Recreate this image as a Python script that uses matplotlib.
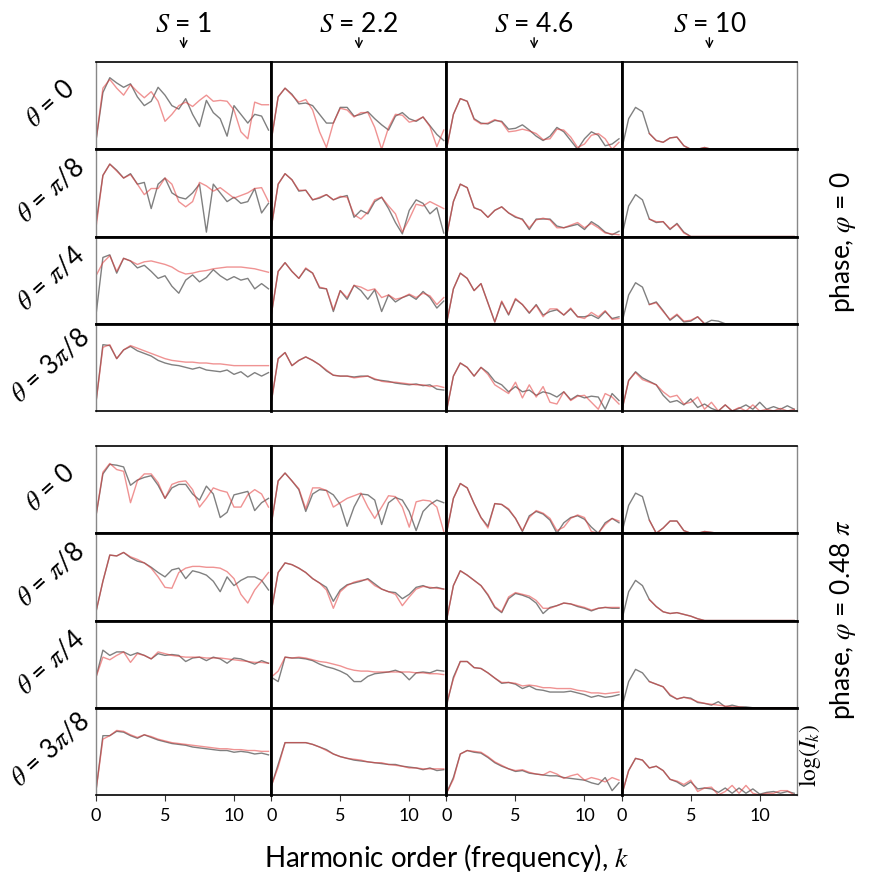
import numpy as np
import matplotlib
matplotlib.use('Agg')
import matplotlib.pyplot as plt

plt.rcParams['font.family'] = ['Lato', 'DejaVu Sans']
plt.rcParams['mathtext.fontset'] = 'stix'

nan = np.nan

# harmonic order axis, read every half step
k = np.arange(0, 12.75, 0.5)

s_labels = ['1', '2.2', '4.6', '10']
theta_labels = [r'$\theta$ = 0', r'$\theta$ = $\pi$/8', r'$\theta$ = $\pi$/4', r'$\theta$ = 3$\pi$/8']
phase_labels = [r'phase, $\varphi$ = 0', r'phase, $\varphi$ = 0.48 $\pi$']

# ---- phase 0, gray (reference) curves: one row per theta, columns S=1, 2.2, 4.6, 10
gray_p0_t0 = [
    [0.1, 0.65, 0.82, 0.76, 0.71, 0.75, 0.6, 0.5, 0.55, 0.71, 0.62, 0.5, 0.46, 0.58, 0.4, 0.26, 0.56, 0.42, 0.35, 0.15, 0.5, 0.4, 0.3, 0.4, 0.38, 0.22],
    [0.1, 0.6, 0.70, 0.63, 0.52, 0.53, 0.5, 0.4, 0.3, 0.3, 0.48, 0.48, 0.38, 0.4, 0.43, 0.35, 0.28, 0.22, 0.38, 0.42, 0.35, 0.32, 0.37, 0.27, 0.17, 0.1],
    [0.0, 0.4, 0.58, 0.55, 0.35, 0.3, 0.29, 0.33, 0.32, 0.23, 0.24, 0.28, 0.22, 0.15, 0.1, 0.15, 0.25, 0.2, 0.1, 0.0, 0.12, 0.2, 0.16, 0.04, 0.06, 0.12],
    [0.0, 0.35, 0.48, 0.43, 0.18, 0.1, 0.08, 0.13, 0.14, 0.04, 0.0, 0.0, 0.02, 0, 0, 0, 0, 0, 0, 0, 0, 0, 0, 0, 0, 0],
]
gray_p0_t1 = [
    [0.15, 0.7, 0.83, 0.76, 0.67, 0.72, 0.6, 0.62, 0.32, 0.6, 0.67, 0.5, 0.45, 0.43, 0.5, 0.6, 0.05, 0.6, 0.5, 0.4, 0.45, 0.38, 0.4, 0.55, 0.27, 0.38],
    [0.1, 0.6, 0.72, 0.65, 0.52, 0.53, 0.42, 0.44, 0.48, 0.42, 0.45, 0.47, 0.22, 0.3, 0.26, 0.4, 0.45, 0.32, 0.16, 0.03, 0.3, 0.42, 0.38, 0.26, 0.33, 0.04],
    [0.0, 0.4, 0.6, 0.56, 0.33, 0.3, 0.22, 0.3, 0.34, 0.27, 0.22, 0.2, 0.08, 0.2, 0.2, 0.2, 0.12, 0.1, 0.12, 0.14, 0.08, 0.17, 0.12, 0.05, 0.02, 0.06],
    [0.0, 0.35, 0.48, 0.42, 0.2, 0.16, 0.17, 0.08, 0.15, 0.05, 0.0, 0, 0, 0, 0, 0, 0, 0, 0, 0, 0, 0, 0, 0, 0, 0],
]
gray_p0_t2 = [
    [0.1, 0.76, 0.79, 0.58, 0.75, 0.72, 0.64, 0.67, 0.6, 0.52, 0.55, 0.43, 0.35, 0.5, 0.56, 0.48, 0.53, 0.62, 0.55, 0.5, 0.54, 0.5, 0.52, 0.4, 0.46, 0.4],
    [0.1, 0.6, 0.70, 0.6, 0.52, 0.63, 0.58, 0.41, 0.4, 0.14, 0.38, 0.28, 0.44, 0.38, 0.28, 0.39, 0.14, 0.33, 0.25, 0.3, 0.33, 0.28, 0.37, 0.3, 0.18, 0.26],
    [0.0, 0.4, 0.58, 0.52, 0.38, 0.46, 0.24, 0.02, 0.25, 0.1, 0.28, 0.22, 0.12, 0.22, 0.1, 0.14, 0.16, 0.1, 0.17, 0.08, 0.08, 0.1, 0.06, 0.14, 0.06, 0.08],
    [0.0, 0.33, 0.47, 0.42, 0.22, 0.25, 0.15, 0.04, 0.1, 0.02, 0.03, 0.08, 0.0, 0.04, 0.03, 0, 0, 0, 0, 0, 0, 0, 0, 0, 0, 0],
]
gray_p0_t3 = [
    [0.1, 0.76, 0.75, 0.6, 0.7, 0.74, 0.69, 0.66, 0.63, 0.58, 0.55, 0.53, 0.52, 0.5, 0.48, 0.5, 0.47, 0.46, 0.45, 0.47, 0.42, 0.45, 0.39, 0.44, 0.4, 0.44],
    [0.1, 0.6, 0.67, 0.52, 0.58, 0.62, 0.58, 0.53, 0.46, 0.41, 0.4, 0.4, 0.39, 0.4, 0.4, 0.36, 0.35, 0.34, 0.32, 0.31, 0.3, 0.31, 0.29, 0.3, 0.25, 0.24],
    [0.0, 0.4, 0.55, 0.5, 0.4, 0.5, 0.44, 0.34, 0.3, 0.22, 0.28, 0.22, 0.24, 0.18, 0.22, 0.2, 0.16, 0.22, 0.13, 0.18, 0.15, 0.17, 0.16, 0.02, 0.2, 0.12],
    [0.0, 0.35, 0.45, 0.38, 0.34, 0.3, 0.18, 0.1, 0.12, 0.07, 0.14, 0.04, 0.08, 0.03, 0.0, 0.07, 0.0, 0.03, 0.07, 0.02, 0.1, 0.02, 0.05, 0.02, 0.06, 0.02],
]

# ---- phase 0, pink (model) curves
pink_p0_t0 = [
    [0.1, 0.7, 0.8, 0.7, 0.62, 0.74, 0.66, 0.59, 0.66, 0.55, 0.32, 0.4, 0.5, 0.54, 0.49, 0.56, 0.62, 0.55, 0.56, 0.55, 0.45, 0.2, 0.12, 0.54, 0.51, 0.51],
    [0.1, 0.6, 0.7, 0.62, 0.54, 0.57, 0.45, 0.2, 0.02, 0.3, 0.47, 0.45, 0.37, 0.42, 0.42, 0.25, 0.0, 0.25, 0.4, 0.39, 0.31, 0.33, 0.37, 0.26, 0.03, 0.22],
    [0.0, 0.4, 0.58, 0.55, 0.34, 0.29, 0.3, 0.34, 0.31, 0.2, 0.21, 0.23, 0.21, 0.18, 0.11, 0.12, 0.23, 0.22, 0.14, 0.02, 0.06, 0.16, 0.18, 0.12, 0.0, 0.08],
    [nan, nan, nan, nan, 0.18, 0.1, 0.08, 0.13, 0.14, 0.04, 0.0, 0.0, 0.02, 0, 0, 0, 0, 0, 0, 0, 0, 0, 0, 0, 0, 0],
]
pink_p0_t1 = [
    [0.1, 0.7, 0.83, 0.75, 0.67, 0.71, 0.6, 0.48, 0.55, 0.55, 0.67, 0.6, 0.4, 0.34, 0.4, 0.62, 0.58, 0.52, 0.56, 0.5, 0.44, 0.47, 0.5, 0.55, 0.56, 0.4],
    [0.1, 0.6, 0.72, 0.65, 0.53, 0.53, 0.42, 0.45, 0.48, 0.42, 0.46, 0.45, 0.25, 0.2, 0.28, 0.42, 0.45, 0.35, 0.26, 0.05, 0.2, 0.37, 0.35, 0.4, 0.36, 0.32],
    [0.0, 0.4, 0.6, 0.56, 0.33, 0.3, 0.22, 0.3, 0.34, 0.27, 0.23, 0.19, 0.1, 0.19, 0.21, 0.19, 0.1, 0.1, 0.13, 0.16, 0.1, 0.15, 0.1, 0.04, 0.03, 0.02],
    [nan, nan, nan, nan, 0.2, 0.17, 0.17, 0.09, 0.14, 0.04, 0.0, 0, 0, 0, 0, 0, 0, 0, 0, 0, 0, 0, 0, 0, 0, 0],
]
pink_p0_t2 = [
    [0.55, 0.7, 0.78, 0.6, 0.75, 0.72, 0.68, 0.71, 0.72, 0.7, 0.68, 0.65, 0.6, 0.57, 0.58, 0.6, 0.61, 0.63, 0.64, 0.65, 0.65, 0.65, 0.64, 0.63, 0.61, 0.59],
    [0.1, 0.6, 0.70, 0.6, 0.52, 0.64, 0.58, 0.42, 0.4, 0.16, 0.38, 0.3, 0.44, 0.42, 0.38, 0.4, 0.3, 0.33, 0.28, 0.3, 0.34, 0.3, 0.35, 0.32, 0.22, 0.3],
    [0.0, 0.4, 0.58, 0.52, 0.38, 0.46, 0.24, 0.02, 0.26, 0.11, 0.29, 0.22, 0.13, 0.21, 0.08, 0.17, 0.17, 0.1, 0.18, 0.08, 0.06, 0.13, 0.08, 0.15, 0.05, 0.06],
    [nan, nan, nan, nan, 0.22, 0.24, 0.14, 0.05, 0.11, 0.03, 0.04, 0.08, 0.0, 0, 0, 0, 0, 0, 0, 0, 0, 0, 0, 0, 0, 0],
]
pink_p0_t3 = [
    [0.1, 0.73, 0.76, 0.6, 0.7, 0.75, 0.72, 0.69, 0.66, 0.63, 0.6, 0.58, 0.57, 0.56, 0.56, 0.55, 0.55, 0.54, 0.54, 0.53, 0.52, 0.52, 0.52, 0.52, 0.52, 0.52],
    [0.1, 0.6, 0.67, 0.52, 0.58, 0.62, 0.58, 0.53, 0.47, 0.41, 0.4, 0.4, 0.38, 0.39, 0.4, 0.37, 0.34, 0.33, 0.33, 0.32, 0.31, 0.3, 0.3, 0.28, 0.29, 0.27],
    [0.0, 0.4, 0.55, 0.5, 0.4, 0.5, 0.42, 0.3, 0.25, 0.2, 0.33, 0.15, 0.3, 0.16, 0.28, 0.1, 0.08, 0.22, 0.12, 0.17, 0.18, 0.1, 0.02, 0.2, 0.16, 0.08],
    [0.0, 0.35, 0.44, 0.36, 0.33, 0.3, 0.22, 0.16, 0.18, 0.08, 0.1, 0.16, 0.02, 0.1, 0.0, 0.07, 0.0, 0.04, 0.0, 0.07, 0.0, 0.02, 0.0, 0.03, 0.0, 0.02],
]

# ---- phase 0.48 pi, gray curves
gray_p1_t0 = [
    [0.2, 0.68, 0.79, 0.78, 0.76, 0.55, 0.61, 0.64, 0.66, 0.55, 0.4, 0.52, 0.56, 0.56, 0.45, 0.38, 0.54, 0.45, 0.18, 0.24, 0.44, 0.46, 0.48, 0.26, 0.35, 0.4],
    [0.1, 0.6, 0.69, 0.6, 0.5, 0.25, 0.45, 0.5, 0.49, 0.44, 0.33, 0.08, 0.3, 0.45, 0.44, 0.38, 0.1, 0.35, 0.41, 0.38, 0.25, 0.03, 0.25, 0.33, 0.38, 0.35],
    [0.0, 0.4, 0.57, 0.52, 0.34, 0.18, 0.08, 0.34, 0.33, 0.27, 0.17, 0.02, 0.2, 0.25, 0.22, 0.15, 0.0, 0.12, 0.18, 0.2, 0.16, 0.07, 0.0, 0.12, 0.17, 0.12],
    [0.0, 0.32, 0.46, 0.42, 0.15, 0.0, 0.06, 0.14, 0.14, 0.03, 0.0, 0.0, 0.02, 0.01, 0, 0, 0, 0, 0, 0, 0, 0, 0, 0, 0, 0],
]
gray_p1_t1 = [
    [0.1, 0.45, 0.75, 0.74, 0.78, 0.72, 0.68, 0.66, 0.61, 0.55, 0.5, 0.58, 0.6, 0.48, 0.57, 0.55, 0.52, 0.45, 0.33, 0.5, 0.4, 0.46, 0.5, 0.5, 0.46, 0.35],
    [0.1, 0.55, 0.66, 0.64, 0.6, 0.55, 0.48, 0.43, 0.38, 0.22, 0.35, 0.41, 0.43, 0.45, 0.48, 0.42, 0.36, 0.33, 0.32, 0.25, 0.3, 0.38, 0.4, 0.37, 0.38, 0.36],
    [0.0, 0.4, 0.57, 0.52, 0.46, 0.4, 0.29, 0.15, 0.09, 0.25, 0.31, 0.29, 0.26, 0.2, 0.08, 0.15, 0.17, 0.2, 0.19, 0.16, 0.14, 0.11, 0.14, 0.15, 0.14, 0.14],
    [0.0, 0.33, 0.46, 0.4, 0.24, 0.16, 0.1, 0.08, 0.09, 0.07, 0.05, 0.02, 0.0, 0, 0, 0, 0, 0, 0, 0, 0, 0, 0, 0, 0, 0],
]
gray_p1_t2 = [
    [0.35, 0.66, 0.6, 0.64, 0.64, 0.6, 0.63, 0.6, 0.56, 0.62, 0.6, 0.61, 0.6, 0.53, 0.57, 0.58, 0.54, 0.58, 0.56, 0.51, 0.57, 0.56, 0.53, 0.5, 0.54, 0.51],
    [0.35, 0.3, 0.58, 0.57, 0.57, 0.56, 0.54, 0.5, 0.47, 0.45, 0.42, 0.38, 0.3, 0.3, 0.36, 0.39, 0.4, 0.41, 0.43, 0.4, 0.32, 0.4, 0.41, 0.4, 0.43, 0.42],
    [0.02, 0.35, 0.53, 0.53, 0.46, 0.45, 0.4, 0.34, 0.28, 0.29, 0.27, 0.22, 0.25, 0.21, 0.2, 0.18, 0.18, 0.18, 0.19, 0.17, 0.15, 0.12, 0.14, 0.12, 0.13, 0.15],
    [0.0, 0.3, 0.44, 0.4, 0.3, 0.27, 0.24, 0.14, 0.1, 0.12, 0.11, 0.06, 0.05, 0.03, 0.07, 0.01, 0.03, 0.01, 0.01, 0, 0, 0, 0, 0, 0, 0],
]
gray_p1_t3 = [
    [0.05, 0.68, 0.68, 0.73, 0.72, 0.68, 0.65, 0.69, 0.66, 0.63, 0.61, 0.59, 0.58, 0.57, 0.55, 0.54, 0.53, 0.52, 0.51, 0.51, 0.49, 0.5, 0.49, 0.47, 0.48, 0.46],
    [0.1, 0.35, 0.6, 0.6, 0.6, 0.6, 0.58, 0.55, 0.52, 0.47, 0.44, 0.42, 0.4, 0.39, 0.38, 0.37, 0.36, 0.35, 0.35, 0.33, 0.32, 0.31, 0.29, 0.31, 0.28, 0.29],
    [0.02, 0.2, 0.47, 0.51, 0.49, 0.48, 0.43, 0.37, 0.33, 0.3, 0.27, 0.28, 0.25, 0.24, 0.23, 0.22, 0.22, 0.2, 0.19, 0.18, 0.17, 0.14, 0.12, 0.2, 0.05, 0.14],
    [0.0, 0.28, 0.42, 0.4, 0.31, 0.33, 0.28, 0.18, 0.15, 0.1, 0.15, 0.07, 0.08, 0.07, 0.03, 0.08, 0.02, 0.08, 0.02, 0.07, 0.01, 0.03, 0.04, 0.02, 0.04, 0.02],
]

# ---- phase 0.48 pi, pink curves
pink_p1_t0 = [
    [0.2, 0.7, 0.8, 0.73, 0.71, 0.35, 0.6, 0.68, 0.68, 0.58, 0.4, 0.56, 0.59, 0.6, 0.5, 0.3, 0.4, 0.52, 0.49, 0.47, 0.3, 0.3, 0.44, 0.5, 0.45, 0.3],
    [0.1, 0.6, 0.69, 0.6, 0.51, 0.28, 0.52, 0.52, 0.49, 0.3, 0.35, 0.4, 0.43, 0.46, 0.3, 0.17, 0.3, 0.43, 0.42, 0.3, 0.07, 0.36, 0.38, 0.37, 0.3, 0.02],
    [0.0, 0.4, 0.57, 0.52, 0.34, 0.18, 0.06, 0.34, 0.33, 0.28, 0.17, 0.03, 0.18, 0.26, 0.23, 0.17, 0.03, 0.07, 0.17, 0.21, 0.18, 0.02, 0.0, 0.1, 0.17, 0.14],
    [nan, nan, nan, nan, 0.15, 0.0, 0.06, 0.14, 0.14, 0.03, 0.0, 0.0, 0.02, 0.01, 0, 0, 0, 0, 0, 0, 0, 0, 0, 0, 0, 0],
]
pink_p1_t1 = [
    [0.1, 0.45, 0.75, 0.74, 0.78, 0.73, 0.7, 0.66, 0.6, 0.5, 0.38, 0.37, 0.55, 0.6, 0.62, 0.62, 0.61, 0.61, 0.6, 0.56, 0.48, 0.3, 0.2, 0.35, 0.45, 0.55],
    [0.1, 0.55, 0.66, 0.64, 0.6, 0.55, 0.48, 0.43, 0.35, 0.14, 0.33, 0.4, 0.44, 0.46, 0.47, 0.4, 0.36, 0.33, 0.3, 0.17, 0.27, 0.36, 0.39, 0.38, 0.37, 0.36],
    [0.0, 0.4, 0.57, 0.52, 0.46, 0.4, 0.3, 0.16, 0.1, 0.27, 0.32, 0.3, 0.28, 0.23, 0.14, 0.14, 0.17, 0.2, 0.19, 0.17, 0.15, 0.12, 0.14, 0.15, 0.15, 0.15],
    [nan, nan, nan, nan, 0.24, 0.16, 0.1, 0.08, 0.09, 0.07, 0.05, 0.02, 0.0, 0, 0, 0, 0, 0, 0, 0, 0, 0, 0, 0, 0, 0],
]
pink_p1_t2 = [
    [0.35, 0.58, 0.55, 0.6, 0.64, 0.52, 0.62, 0.6, 0.56, 0.64, 0.62, 0.6, 0.59, 0.58, 0.58, 0.58, 0.57, 0.57, 0.57, 0.56, 0.55, 0.54, 0.53, 0.52, 0.52, 0.51],
    [0.35, 0.42, 0.58, 0.57, 0.58, 0.57, 0.55, 0.53, 0.52, 0.5, 0.48, 0.45, 0.43, 0.42, 0.42, 0.41, 0.41, 0.41, 0.41, 0.41, 0.41, 0.4, 0.4, 0.39, 0.39, 0.38],
    [0.05, 0.33, 0.53, 0.53, 0.46, 0.45, 0.4, 0.34, 0.29, 0.29, 0.28, 0.25, 0.26, 0.25, 0.23, 0.23, 0.22, 0.22, 0.22, 0.2, 0.19, 0.17, 0.17, 0.16, 0.17, 0.18],
    [nan, nan, nan, nan, 0.3, 0.27, 0.24, 0.15, 0.1, 0.12, 0.1, 0.07, 0.05, 0.04, 0.03, 0.02, 0.01, 0.01, 0.0, 0, 0, 0, 0, 0, 0, 0],
]
pink_p1_t3 = [
    [0.05, 0.64, 0.68, 0.74, 0.73, 0.69, 0.66, 0.69, 0.67, 0.64, 0.62, 0.6, 0.59, 0.58, 0.57, 0.56, 0.55, 0.54, 0.53, 0.53, 0.52, 0.52, 0.51, 0.51, 0.5, 0.5],
    [0.1, 0.32, 0.6, 0.6, 0.6, 0.6, 0.58, 0.55, 0.51, 0.47, 0.44, 0.42, 0.41, 0.4, 0.38, 0.37, 0.37, 0.35, 0.34, 0.33, 0.31, 0.31, 0.3, 0.3, 0.3, 0.3],
    [0.02, 0.18, 0.47, 0.51, 0.5, 0.49, 0.44, 0.38, 0.34, 0.3, 0.28, 0.29, 0.26, 0.24, 0.23, 0.27, 0.24, 0.19, 0.22, 0.24, 0.17, 0.2, 0.18, 0.15, 0.2, 0.17],
    [0.0, 0.28, 0.42, 0.4, 0.31, 0.33, 0.28, 0.18, 0.16, 0.12, 0.17, 0.04, 0.08, 0.09, 0.0, 0.04, 0.11, 0.02, 0.11, 0.02, 0.0, 0.02, 0.02, 0.05, 0.05, 0.0],
]

gray = [[gray_p0_t0, gray_p0_t1, gray_p0_t2, gray_p0_t3],
        [gray_p1_t0, gray_p1_t1, gray_p1_t2, gray_p1_t3]]
pink = [[pink_p0_t0, pink_p0_t1, pink_p0_t2, pink_p0_t3],
        [pink_p1_t0, pink_p1_t1, pink_p1_t2, pink_p1_t3]]

fig = plt.figure(figsize=(8.78, 8.80), dpi=100)

left, right = 96 / 878, 797 / 878
blocks = [(1 - 62 / 880, 1 - 411 / 880), (1 - 446 / 880, 1 - 795 / 880)]

for b, (top, bottom) in enumerate(blocks):
    gs = fig.add_gridspec(4, 4, left=left, right=right, top=top, bottom=bottom,
                          hspace=0, wspace=0)
    for i in range(4):
        for j in range(4):
            ax = fig.add_subplot(gs[i, j])
            ax.plot(k, gray[b][i][j], color='#808080', lw=1.0)
            ax.plot(k, pink[b][i][j], color='#e33a3a', alpha=0.55, lw=1.0)
            ax.set_xlim(0, 12.7)
            ax.set_ylim(0, 1)
            ax.set_yticks([])
            ax.set_xticks([0, 5, 10])
            if b == 1 and i == 3:
                ax.tick_params(axis='x', direction='out', length=4, width=0.8,
                               labelsize=13, pad=5, color='#333333')
            else:
                ax.tick_params(axis='x', length=0, labelbottom=False)

            for sp in ax.spines.values():
                sp.set_color('black')
                sp.set_linewidth(1.2)
            if j > 0:
                ax.spines['left'].set_linewidth(2.0)
            else:
                ax.spines['left'].set_color('#888888')
                ax.spines['left'].set_linewidth(1.0)
            if j == 3:
                ax.spines['right'].set_color('#888888')
                ax.spines['right'].set_linewidth(1.0)
            if i > 0:
                ax.spines['top'].set_linewidth(2.0)

            if j == 0:
                ax.text(-0.26, 0.52, theta_labels[i], transform=ax.transAxes,
                        rotation=42, ha='center', va='center', fontsize=18.5)
            if b == 0 and i == 0:
                ax.text(0.5, 1.43, r'$S$ = ' + s_labels[j], transform=ax.transAxes,
                        ha='center', va='center', fontsize=19)
                ax.annotate('', xy=(0.5, 1.12), xytext=(0.5, 1.31),
                            xycoords='axes fraction', textcoords='axes fraction',
                            arrowprops=dict(arrowstyle='->', lw=1.0, color='black',
                                            mutation_scale=12),
                            annotation_clip=False)

fig.text(843 / 878, 1 - 242 / 880, phase_labels[0], rotation=90,
         ha='center', va='center', fontsize=19)
fig.text(843 / 878, 1 - 620 / 880, phase_labels[1], rotation=90,
         ha='center', va='center', fontsize=19)
fig.text(810 / 878, 1 - 755 / 880, r'$\log(I_k)$', rotation=90,
         ha='center', va='center', fontsize=17)
fig.text(447 / 878, 1 - 858 / 880, r'Harmonic order (frequency), $k$',
         ha='center', va='center', fontsize=20)

fig.savefig('out.png', dpi=100)
